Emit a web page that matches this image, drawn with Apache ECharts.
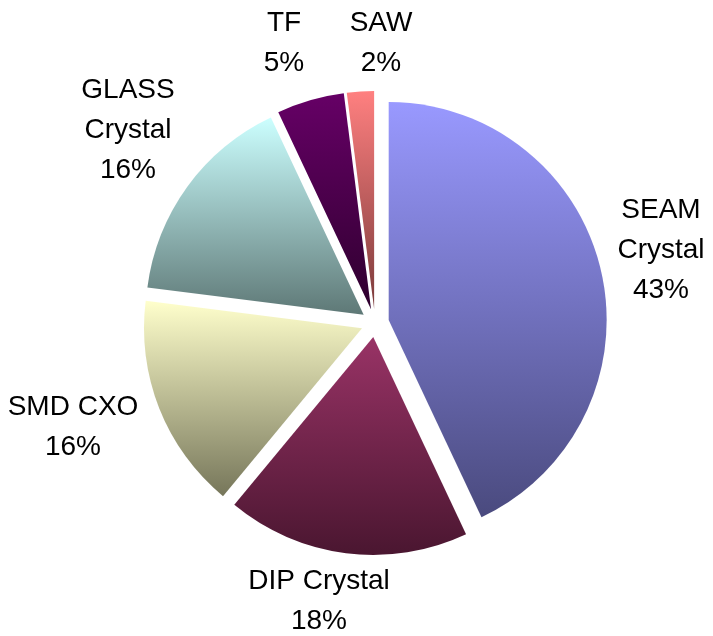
<!DOCTYPE html>
<html><head><meta charset="utf-8">
<script src="https://cdn.jsdelivr.net/npm/echarts@6/dist/echarts.min.js"></script>
<style>html,body{margin:0;padding:0;background:#fff}#c{width:713px;height:636px}</style>
</head><body><div id="c"></div>
<script>
const categories = ['SEAM\nCrystal', 'DIP Crystal', 'SMD CXO', 'GLASS\nCrystal', 'TF', 'SAW'];
const shares = [43, 18, 16, 16, 5, 2];

// styling (not data)
const topColors = ['#9999ff', '#993366', '#ffffcc', '#ccffff', '#660066', '#ff8080'];
const bottomColors = ['#4a4a7e', '#4a1630', '#76765a', '#5e7876', '#2e002e', '#7a3a3a'];
const labelCenters = [[661, 250], [319, 601], [73, 427], [128, 130], [284, 43], [381, 43]];

const chart = echarts.init(document.getElementById('c'), null, {renderer: 'canvas'});
const sliceData = categories.map((name, i) => ({
  name: name,
  value: shares[i],
  selected: true,
  itemStyle: {
    color: new echarts.graphic.LinearGradient(0, 0, 0, 1, [
      {offset: 0, color: topColors[i]},
      {offset: 1, color: bottomColors[i]}
    ])
  }
}));
const labelData = categories.map((name, i) => ({name: name, value: shares[i]}));
const common = {
  type: 'pie',
  center: [375, 323],
  radius: 218,
  startAngle: 90,
  clockwise: true,
  avoidLabelOverlap: false,
  percentPrecision: 0,
  silent: true,
  emphasis: {disabled: true},
  labelLine: {show: false}
};
chart.setOption({
  animation: false,
  backgroundColor: '#ffffff',
  series: [
    Object.assign({}, common, {
      selectedMode: 'multiple',
      selectedOffset: 14,
      itemStyle: {borderWidth: 0},
      label: {show: false},
      data: sliceData
    }),
    Object.assign({}, common, {
      z: 3,
      itemStyle: {color: 'rgba(0,0,0,0)', borderWidth: 0},
      label: {
        show: true,
        position: 'outside',
        formatter: '{b}\n{d}%',
        fontFamily: 'Liberation Sans, Arial, sans-serif',
        fontSize: 28,
        lineHeight: 40,
        color: '#000000',
        align: 'center'
      },
      labelLayout: function (params) {
        const p = labelCenters[params.dataIndex];
        return {x: p[0], y: p[1], align: 'center', verticalAlign: 'middle'};
      },
      data: labelData
    })
  ]
});
</script>
</body></html>
